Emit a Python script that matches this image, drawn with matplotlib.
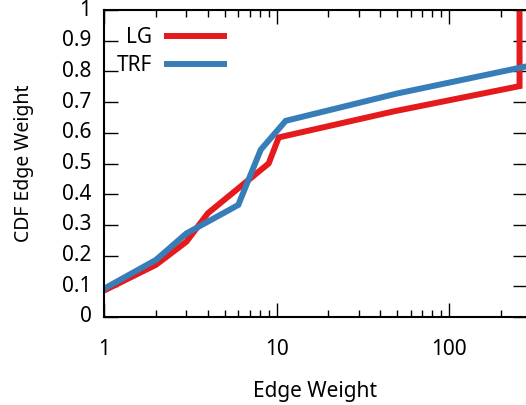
import matplotlib.pyplot as plt
from matplotlib.ticker import LogLocator, FixedLocator, NullFormatter

plt.rcParams['font.family'] = ['Noto Sans', 'DejaVu Sans']

# Datos (CDF del peso de las aristas)
lg_x = [1, 2, 3, 4, 9, 10.3, 48, 256, 256]
lg_y = [0.086, 0.17, 0.245, 0.338, 0.50, 0.585, 0.67, 0.752, 1.0]

trf_x = [1, 2, 3, 6, 8.1, 11.3, 50, 290]
trf_y = [0.092, 0.186, 0.272, 0.365, 0.545, 0.639, 0.728, 0.818]

x_ticks = [1, 10, 100]
x_labels = ["1", "10", "100"]
y_ticks = [0, 0.1, 0.2, 0.3, 0.4, 0.5, 0.6, 0.7, 0.8, 0.9, 1]
y_labels = ["0", "0.1", "0.2", "0.3", "0.4", "0.5", "0.6", "0.7", "0.8", "0.9", "1"]

fig = plt.figure(figsize=(5.26, 4.05), dpi=100)
ax = fig.add_axes([104 / 526, 1 - 317 / 405, 1 - 104 / 526 + 0.002, (317 - 10) / 405])

ax.plot(lg_x, lg_y, color='#e41a1c', lw=4.3, label="LG",
        solid_joinstyle='miter', solid_capstyle='butt')
ax.plot(trf_x, trf_y, color='#377eb8', lw=4.3, label="TRF",
        solid_joinstyle='miter', solid_capstyle='butt')

ax.set_xscale('log')
ax.set_xlim(1, 283)
ax.set_ylim(0, 1)

ax.xaxis.set_major_locator(FixedLocator(x_ticks))
ax.set_xticklabels(x_labels)
ax.xaxis.set_minor_locator(LogLocator(base=10, subs=range(2, 10)))
ax.xaxis.set_minor_formatter(NullFormatter())
ax.set_yticks(y_ticks)
ax.set_yticklabels(y_labels)

ax.tick_params(which='both', direction='in', top=True, right=True, width=1, labelsize=15)
ax.tick_params(which='major', length=10)
ax.tick_params(which='minor', length=5)
ax.tick_params(axis='x', pad=16)
ax.tick_params(axis='y', pad=9)
for s in ax.spines.values():
    s.set_linewidth(1.5)

ax.set_xlabel("Edge Weight", fontsize=15, labelpad=15)
ax.set_ylabel("CDF Edge Weight", fontsize=14, labelpad=20)

for t in ax.get_yticklabels():
    t.set_verticalalignment('center')

leg = ax.legend(loc='upper left', bbox_to_anchor=(-0.015, 1.006), frameon=False,
                markerfirst=False, handlelength=3.0, fontsize=15,
                labelspacing=0.35, handletextpad=0.6)

plt.savefig("out.png", dpi=100)
